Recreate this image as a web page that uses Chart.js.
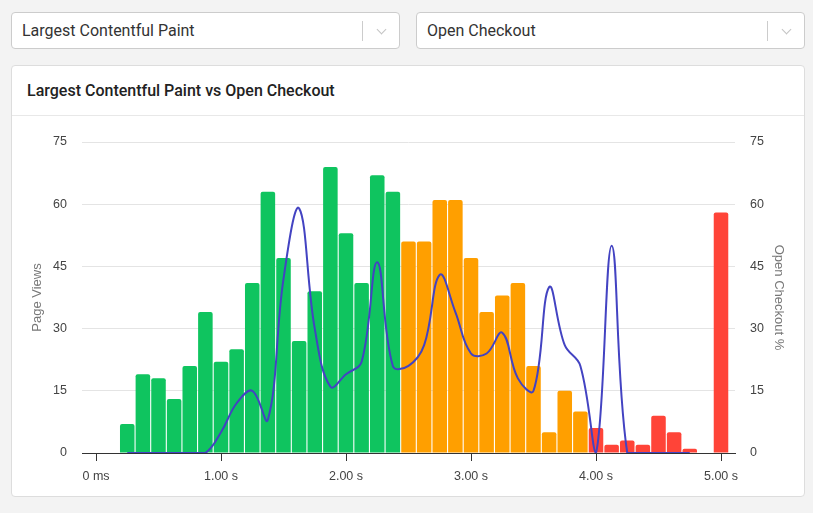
<!DOCTYPE html>
<html>
<head>
<meta charset="utf-8">
<script src="https://cdn.jsdelivr.net/npm/chart.js@4.4.1/dist/chart.umd.min.js"></script>
<style>
    body {
        margin: 0;
        background: #f3f3f3;
        font-family: Roboto, "Noto Sans", sans-serif;
        width: 813px;
        height: 513px;
        overflow: hidden;
        position: relative;
    }
    .select {
        position: absolute;
        top: 12px;
        width: 387px;
        height: 35px;
        background: #fff;
        border: 1px solid #cccccc;
        border-radius: 4px;
        font-size: 16px;
        color: #333;
        line-height: 35px;
    }
    .select .value {
        position: absolute;
        left: 10px;
    }
    .select .sep {
        position: absolute;
        right: 36px;
        top: 8px;
        width: 1px;
        height: 20px;
        background: #cccccc;
    }
    .select .chev {
        position: absolute;
        right: 14px;
        top: 13px;
        width: 6px;
        height: 6px;
        border-right: 1.5px solid #c4c4c4;
        border-bottom: 1.5px solid #c4c4c4;
        transform: rotate(45deg);
    }
    .card {
        position: absolute;
        left: 11px;
        top: 65px;
        width: 792px;
        height: 430px;
        background: #fff;
        border: 1px solid #dddddd;
        border-radius: 4px;
    }
    .card-title {
        height: 49px;
        border-bottom: 1px solid #e8e8e8;
        font-size: 16px;
        font-weight: 500;
        color: #222;
        line-height: 49px;
        padding-left: 15px;
    }
    .chart-box {
        position: relative;
        width: 792px;
        height: 380px;
    }
</style>
</head>
<body>
<div class="select" style="left:11px"><span class="value">Largest Contentful Paint</span><span class="sep"></span><span class="chev"></span></div>
<div class="select" style="left:416px"><span class="value">Open Checkout</span><span class="sep"></span><span class="chev"></span></div>
<div class="card">
    <div class="card-title">Largest Contentful Paint vs Open Checkout</div>
    <div class="chart-box"><canvas id="chart"></canvas></div>
</div>
<script>
// load time buckets (seconds)
const loadTimes = [0.25, 0.375, 0.5, 0.625, 0.75, 0.875, 1.0, 1.125, 1.25, 1.375,
    1.5, 1.625, 1.75, 1.875, 2.0, 2.125, 2.25, 2.375, 2.5, 2.625,
    2.75, 2.875, 3.0, 3.125, 3.25, 3.375, 3.5, 3.625, 3.75, 3.875,
    4.0, 4.125, 4.25, 4.375, 4.5, 4.625, 4.75, 4.875, 5.0];
const pageViews = [7, 19, 18, 13, 21, 34, 22, 25, 41, 63,
    47, 27, 39, 69, 53, 41, 67, 63, 51, 51,
    61, 61, 47, 34, 38, 41, 21, 5, 15, 10,
    6, 2, 3, 2, 9, 5, 1, 0, 58];
const openCheckout = [0, 0, 0, 0, 0, 0, 5, 12, 15, 8,
    42, 59, 30, 16, 19, 22, 46, 21, 21, 26,
    43, 34, 24, 24, 29, 18, 15, 40, 26, 21,
    0, 50, 0, 0, 0, 0, 0, null, null];
const xTicks = [0, 1, 2, 3, 4, 5];
const yTicks = [0, 15, 30, 45, 60, 75];

const GOOD = '#0fc45f';
const NEEDS_WORK = '#ff9f00';
const POOR = '#ff4438';

function barColor(t) {
    if (t < 2.5) return GOOD;
    if (t < 4) return NEEDS_WORK;
    return POOR;
}

const barPoints = loadTimes.map((t, i) => ({ x: t, y: pageViews[i] }));
const linePoints = loadTimes.map((t, i) => ({ x: t, y: openCheckout[i] }));

const tickFont = { family: "'Liberation Sans', Arial, sans-serif", size: 12.5 };
const titleFont = { family: "'Liberation Sans', Arial, sans-serif", size: 13 };

function yAxis(position, text, width) {
    return {
        position: position,
        min: 0,
        max: 75,
        afterBuildTicks: function(axis) {
            axis.ticks = yTicks.map(v => ({ value: v }));
        },
        afterFit: function(axis) {
            axis.width = width;
        },
        title: {
            display: true,
            text: text,
            color: '#777',
            font: titleFont,
            padding: { top: 18, bottom: 0 }
        },
        ticks: { color: '#444', font: tickFont, padding: 15 },
        grid: { color: '#e4e4e4', drawTicks: false, drawOnChartArea: position === 'left' },
        border: { display: false }
    };
}

new Chart(document.getElementById('chart'), {
    type: 'bar',
    data: {
        datasets: [{
            type: 'line',
            label: 'Open Checkout %',
            data: linePoints,
            yAxisID: 'y1',
            borderColor: '#4343c2',
            borderWidth: 2,
            tension: 0.4,
            pointRadius: 0,
            fill: false,
            order: 0
        }, {
            label: 'Page Views',
            data: barPoints,
            yAxisID: 'y',
            backgroundColor: loadTimes.map(barColor),
            borderRadius: { topLeft: 2, topRight: 2 },
            borderSkipped: 'bottom',
            barPercentage: 0.93,
            categoryPercentage: 1,
            order: 1
        }]
    },
    options: {
        responsive: true,
        maintainAspectRatio: false,
        animation: false,
        layout: {
            padding: { left: 0, right: 0, top: 26, bottom: 4 }
        },
        plugins: {
            legend: { display: false },
            tooltip: { enabled: false }
        },
        scales: {
            x: {
                type: 'linear',
                min: -0.112,
                max: 5.112,
                offset: false,
                afterBuildTicks: function(axis) {
                    axis.ticks = xTicks.map(v => ({ value: v }));
                },
                ticks: {
                    color: '#444',
                    font: tickFont,
                    padding: 8,
                    maxRotation: 0,
                    callback: function(value) {
                        return value === 0 ? '0 ms' : value.toFixed(2) + ' s';
                    }
                },
                grid: {
                    offset: false,
                    drawOnChartArea: false,
                    drawTicks: true,
                    tickLength: 8,
                    color: '#333'
                },
                border: { display: true, color: '#333', width: 1 }
            },
            y: yAxis('left', 'Page Views', 70),
            y1: yAxis('right', 'Open Checkout %', 69)
        }
    }
});
</script>
</body>
</html>
